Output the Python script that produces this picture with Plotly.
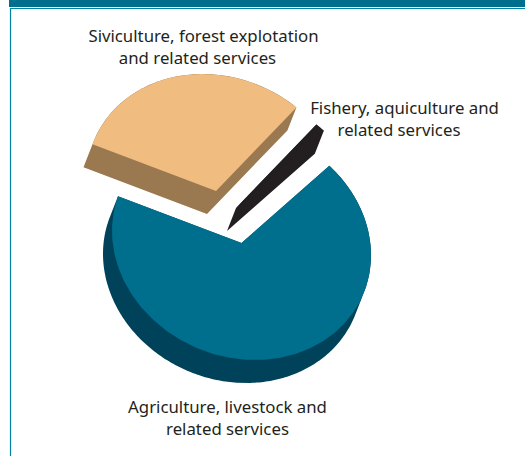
import numpy as np
import plotly.graph_objects as go

categories = ["Agriculture, livestock and related services",
              "Fishery, aquiculture and related services",
              "Siviculture, forest explotation and related services"]
shares = [68.0, 1.2, 30.8]

face_colors = ["#006F8E", "#231F20", "#F0BC80"]
side_colors = ["#00425A", "#231F20", "#9A7850"]
explode = [(-0.5, 0), (-6, -35), (-26, -52)]
start_angle = 162.5
center = (242, 243)
rx, ry, skew = 129.5, 117, 6
depth = (-9, 23)

label_text = ["Siviculture, forest explotation", "and related services",
              "Fishery, aquiculture and", "related services",
              "Agriculture, livestock and", "related services"]
label_x = [203.5, 197.5, 404.5, 399, 227.5, 227.5]
label_y = [37.5, 59.5, 109.5, 131.5, 409, 431]


def outline(a0, a1, off):
    t = np.radians(np.linspace(a0, a1, max(int(abs(a1 - a0)), 2) + 1))
    x = center[0] + rx * np.cos(t) + off[0]
    y = center[1] + off[1] - ry * np.sin(t - np.radians(skew))
    return np.r_[center[0] + off[0], x], np.r_[center[1] + off[1], y]


def oriented(x, y):
    area = np.sum(x * np.roll(y, -1) - np.roll(x, -1) * y)
    return (x, y) if area > 0 else (x[::-1], y[::-1])


fig = go.Figure()
angle = start_angle
for share, face, side, off in zip(shares, face_colors, side_colors, explode):
    sweep = share * 3.6
    fx, fy = outline(angle, angle + sweep, off)
    px, py = [], []
    bx, by = oriented(fx + depth[0], fy + depth[1])
    px += list(bx) + [None]
    py += list(by) + [None]
    for i in range(len(fx)):
        j = (i + 1) % len(fx)
        qx, qy = oriented(
            np.array([fx[i], fx[j], fx[j] + depth[0], fx[i] + depth[0]]),
            np.array([fy[i], fy[j], fy[j] + depth[1], fy[i] + depth[1]]))
        px += list(qx) + [None]
        py += list(qy) + [None]
    fig.add_trace(go.Scatter(x=px, y=py, mode="lines", fill="toself", fillcolor=side,
                             line=dict(width=0, color=side), hoverinfo="skip"))
    fig.add_trace(go.Scatter(x=fx, y=fy, mode="lines", fill="toself", fillcolor=face,
                             line=dict(width=0, color=face), hoverinfo="skip"))
    angle += sweep

fig.add_trace(go.Scatter(x=label_x, y=label_y, text=label_text, mode="text",
                         textposition="middle center", hoverinfo="skip",
                         textfont=dict(family="Noto Sans", size=16.8, color="#231F20")))

frame = "#0083A6"
fig.update_layout(
    width=525, height=456, margin=dict(l=0, r=0, t=0, b=0), showlegend=False,
    paper_bgcolor="white", plot_bgcolor="white",
    xaxis=dict(range=[0, 525], visible=False, fixedrange=True),
    yaxis=dict(range=[456, 0], visible=False, fixedrange=True),
    shapes=[
        dict(type="rect", x0=9, x1=525, y0=0, y1=7, fillcolor="#006F8E", line_width=0),
        dict(type="line", x0=10, x1=525, y0=8.5, y1=8.5, line=dict(color=frame, width=1)),
        dict(type="line", x0=10.5, x1=10.5, y0=8, y1=456, line=dict(color=frame, width=1.2)),
    ],
)
fig.write_html("out.html", config=dict(displayModeBar=False),
               post_script="document.documentElement.style.overflow='hidden';document.body.style.margin='0';")
